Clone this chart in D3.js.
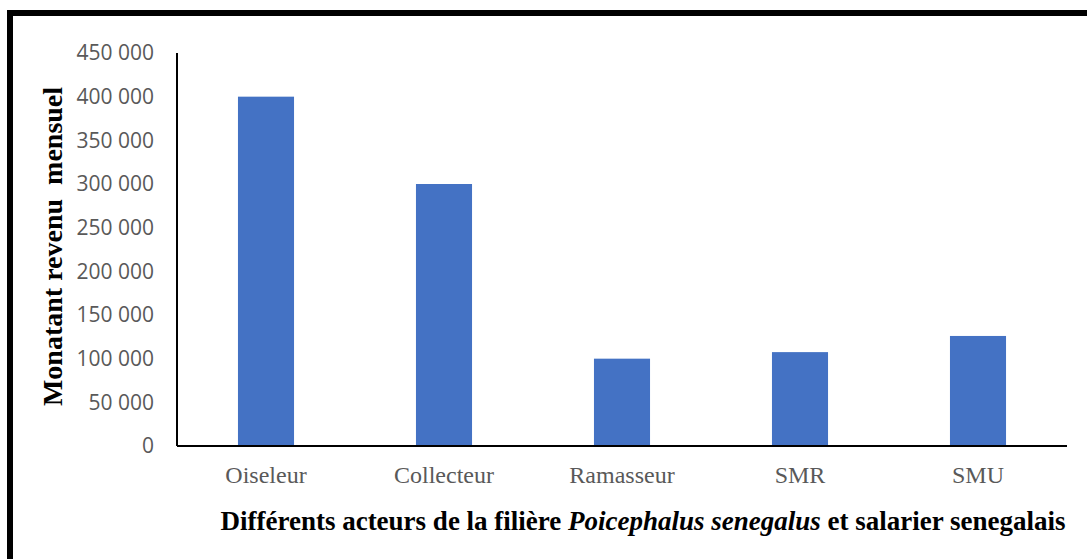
<!DOCTYPE html>
<html>
<head>
<meta charset="utf-8">
<script src="https://cdn.jsdelivr.net/npm/d3@7"></script>
<style>
  html, body { margin: 0; padding: 0; background: #ffffff; }
  svg { display: block; }
</style>
</head>
<body>
<svg id="chart" width="1087" height="559"></svg>
<script>
// ---- data ----
const categories = ["Oiseleur", "Collecteur", "Ramasseur", "SMR", "SMU"];
const values = [400000, 300000, 100000, 107500, 126000];
const yTicks = [0, 50000, 100000, 150000, 200000, 250000, 300000, 350000, 400000, 450000];
const yTitle = "Monatant revenu\u00a0 mensuel";
const xTitleParts = [
  { text: "Différents acteurs de la filière ", italic: false },
  { text: "Poicephalus senegalus", italic: true },
  { text: " et salarier senegalais", italic: false }
];

// ---- layout ----
const svg = d3.select("#chart");
const W = 1087, H = 559;
const plot = { left: 177, right: 1067, top: 53, bottom: 446 };

// frame (top and left thick borders)
svg.append("rect").attr("x", 7).attr("y", 10).attr("width", W - 7).attr("height", 6).attr("fill", "#000");
svg.append("rect").attr("x", 7).attr("y", 10).attr("width", 6).attr("height", H - 10).attr("fill", "#000");

const x = d3.scaleBand()
  .domain(categories)
  .range([plot.left, plot.right])
  .paddingInner(0.685)
  .paddingOuter(0.3425);

const y = d3.scaleLinear()
  .domain([0, 450000])
  .range([plot.bottom, plot.top]);

const loc = d3.formatLocale({ decimal: ",", thousands: " ", grouping: [3], currency: ["", ""] });
const fmt = loc.format(",");

// bars
svg.append("g").selectAll("rect")
  .data(categories.map((c, i) => ({ c, v: values[i] })))
  .join("rect")
  .attr("x", d => x(d.c))
  .attr("y", d => y(d.v))
  .attr("width", x.bandwidth())
  .attr("height", d => y(0) - y(d.v))
  .attr("fill", "#4472C4");

// y axis
const yAxis = svg.append("g")
  .attr("transform", `translate(${plot.left},0)`)
  .call(d3.axisLeft(y).tickValues(yTicks).tickFormat(fmt).tickSize(0).tickPadding(23));
yAxis.select(".domain").remove();
yAxis.selectAll("text")
  .attr("fill", "#595959")
  .attr("font-family", "'Open Sans', 'Noto Sans', sans-serif")
  .attr("font-size", "21px");

svg.append("line")
  .attr("x1", plot.left).attr("x2", plot.left)
  .attr("y1", plot.top).attr("y2", plot.bottom)
  .attr("stroke", "#000").attr("stroke-width", 2);

// x axis
const xAxis = svg.append("g")
  .attr("transform", `translate(0,${plot.bottom})`)
  .call(d3.axisBottom(x).tickSize(0).tickPadding(20));
xAxis.select(".domain").remove();
xAxis.selectAll("text")
  .attr("fill", "#595959")
  .attr("font-family", "'Liberation Serif', 'Times New Roman', serif")
  .attr("font-size", "24px");

svg.append("line")
  .attr("x1", plot.left).attr("x2", plot.right)
  .attr("y1", plot.bottom).attr("y2", plot.bottom)
  .attr("stroke", "#000").attr("stroke-width", 2);

// y title
svg.append("text")
  .attr("transform", `translate(62,${(plot.top + plot.bottom) / 2 - 3}) rotate(-90)`)
  .attr("text-anchor", "middle")
  .attr("font-family", "'Liberation Serif', 'Times New Roman', serif")
  .attr("font-weight", "bold")
  .attr("font-size", "28px")
  .attr("fill", "#000")
  .text(yTitle);

// x title
const xt = svg.append("text")
  .attr("x", (221 + 1065) / 2)
  .attr("y", 530)
  .attr("text-anchor", "middle")
  .attr("font-family", "'Liberation Serif', 'Times New Roman', serif")
  .attr("font-weight", "bold")
  .attr("font-size", "27px")
  .attr("fill", "#000");
xt.selectAll("tspan")
  .data(xTitleParts)
  .join("tspan")
  .attr("font-style", d => d.italic ? "italic" : "normal")
  .text(d => d.text);
</script>
</body>
</html>
